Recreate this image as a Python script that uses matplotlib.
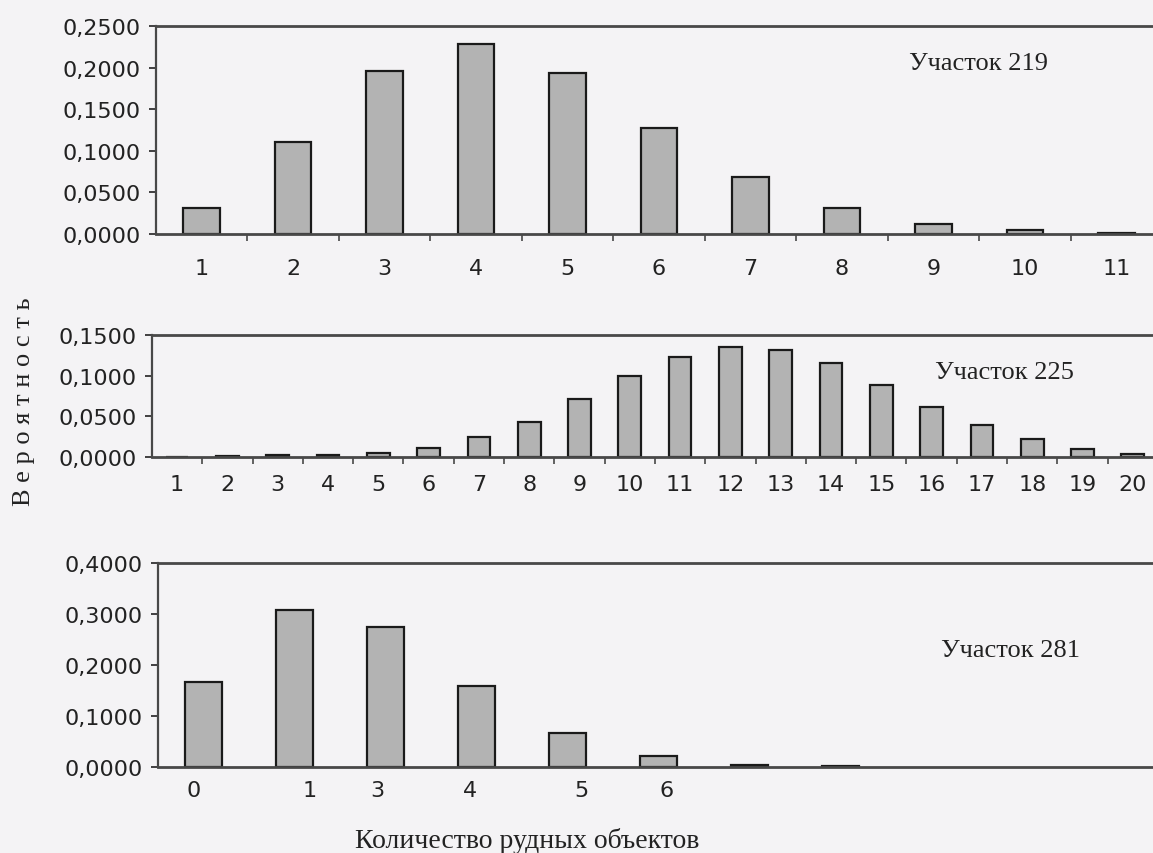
import matplotlib.pyplot as plt
import numpy as np
from matplotlib.ticker import FixedLocator, FuncFormatter

# site 219
labels_219 = ["1", "2", "3", "4", "5", "6", "7", "8", "9", "10", "11"]
prob_219 = [0.031, 0.110, 0.196, 0.228, 0.193, 0.127, 0.069, 0.031, 0.012, 0.005, 0.0015]

# site 225
labels_225 = [str(i) for i in range(1, 21)]
prob_225 = [0.0003, 0.0008, 0.002, 0.003, 0.005, 0.011, 0.024, 0.043, 0.071, 0.099,
            0.123, 0.135, 0.132, 0.115, 0.089, 0.062, 0.039, 0.022, 0.010, 0.004]

# site 281 (labels printed under the first six bars only)
labels_281 = ["0", "1", "3", "4", "5", "6"]
prob_281 = [0.167, 0.307, 0.274, 0.158, 0.067, 0.022, 0.004, 0.001]
n_slots_281 = 11
# the labels in the original are not quite centred under their bars
label_shift_281 = [-0.11, 0.17, -0.09, -0.07, 0.15, 0.09]

ink = "#222222"
bar_fill = "#b3b3b3"
paper = "#f4f3f5"


def comma_fmt(v, _pos):
    return f"{v:.4f}".replace(".", ",")


def style_axis(ax, ymax, ystep, n_slots, xpad, between_ticks=True):
    ax.set_xlim(-0.5, n_slots - 0.5)
    ax.set_ylim(0, ymax)
    ax.set_yticks(np.arange(0, ymax + ystep / 2, ystep))
    ax.yaxis.set_major_formatter(FuncFormatter(comma_fmt))
    ax.set_facecolor(paper)
    for side in ["top", "left", "bottom", "right"]:
        ax.spines[side].set_color("#484848")
    ax.spines["top"].set_linewidth(2.0)
    ax.spines["bottom"].set_linewidth(2.0)
    ax.spines["left"].set_linewidth(1.6)
    ax.spines["right"].set_linewidth(1.6)
    ax.tick_params(axis="y", direction="out", length=5, width=1.2, pad=6,
                   colors=ink, labelsize=16)
    ax.tick_params(axis="x", which="major", length=0, pad=xpad,
                   colors=ink, labelsize=16)
    if between_ticks:
        ax.xaxis.set_minor_locator(FixedLocator(np.arange(0.5, n_slots - 0.5, 1.0)))
        ax.tick_params(axis="x", which="minor", direction="out", length=5,
                       width=1.2, color="#484848")
    for lab in ax.get_xticklabels() + ax.get_yticklabels():
        lab.set_family("DejaVu Sans")


fig = plt.figure(figsize=(11.53, 8.54), dpi=100, facecolor=paper)

# panel 1
ax1 = fig.add_axes([0.1353, 0.7248, 0.8725, 0.2436])
x1 = np.arange(len(prob_219))
ax1.bar(x1, prob_219, width=0.4, color=bar_fill, edgecolor="#1a1a1a", linewidth=1.6)
ax1.set_xticks(x1)
ax1.set_xticklabels(labels_219)
style_axis(ax1, 0.25, 0.05, len(prob_219), xpad=17)
ax1.text(0.818, 0.822, "Участок 219", transform=ax1.transAxes, ha="center",
         va="center", fontsize=19, family="Liberation Serif", color=ink)

# panel 2
ax2 = fig.add_axes([0.1318, 0.4637, 0.8725, 0.1429])
x2 = np.arange(len(prob_225))
ax2.bar(x2, prob_225, width=0.45, color=bar_fill, edgecolor="#1a1a1a", linewidth=1.6)
ax2.set_xticks(x2)
ax2.set_xticklabels(labels_225)
style_axis(ax2, 0.15, 0.05, len(prob_225), xpad=12)
ax2.text(0.847, 0.70, "Участок 225", transform=ax2.transAxes, ha="center",
         va="center", fontsize=19, family="Liberation Serif", color=ink)

# panel 3
ax3 = fig.add_axes([0.137, 0.1007, 0.868, 0.2389])
x3 = np.arange(len(prob_281))
ax3.bar(x3, prob_281, width=0.4, color=bar_fill, edgecolor="#1a1a1a", linewidth=1.6)
ax3.set_xticks(np.arange(len(labels_281)) + np.array(label_shift_281))
ax3.set_xticklabels(labels_281)
style_axis(ax3, 0.4, 0.1, n_slots_281, xpad=9, between_ticks=False)
ax3.text(0.852, 0.573, "Участок 281", transform=ax3.transAxes, ha="center",
         va="center", fontsize=19, family="Liberation Serif", color=ink)

fig.text(0.021, 0.53, "В е р о я т н о с т ь", rotation=90, ha="center",
         va="center", fontsize=19, family="Liberation Serif", color=ink)
fig.text(0.457, 0.007, "Количество рудных объектов", ha="center", va="baseline",
         fontsize=20, family="Liberation Serif", color=ink)

fig.savefig("out.png", dpi=100, facecolor=paper)
